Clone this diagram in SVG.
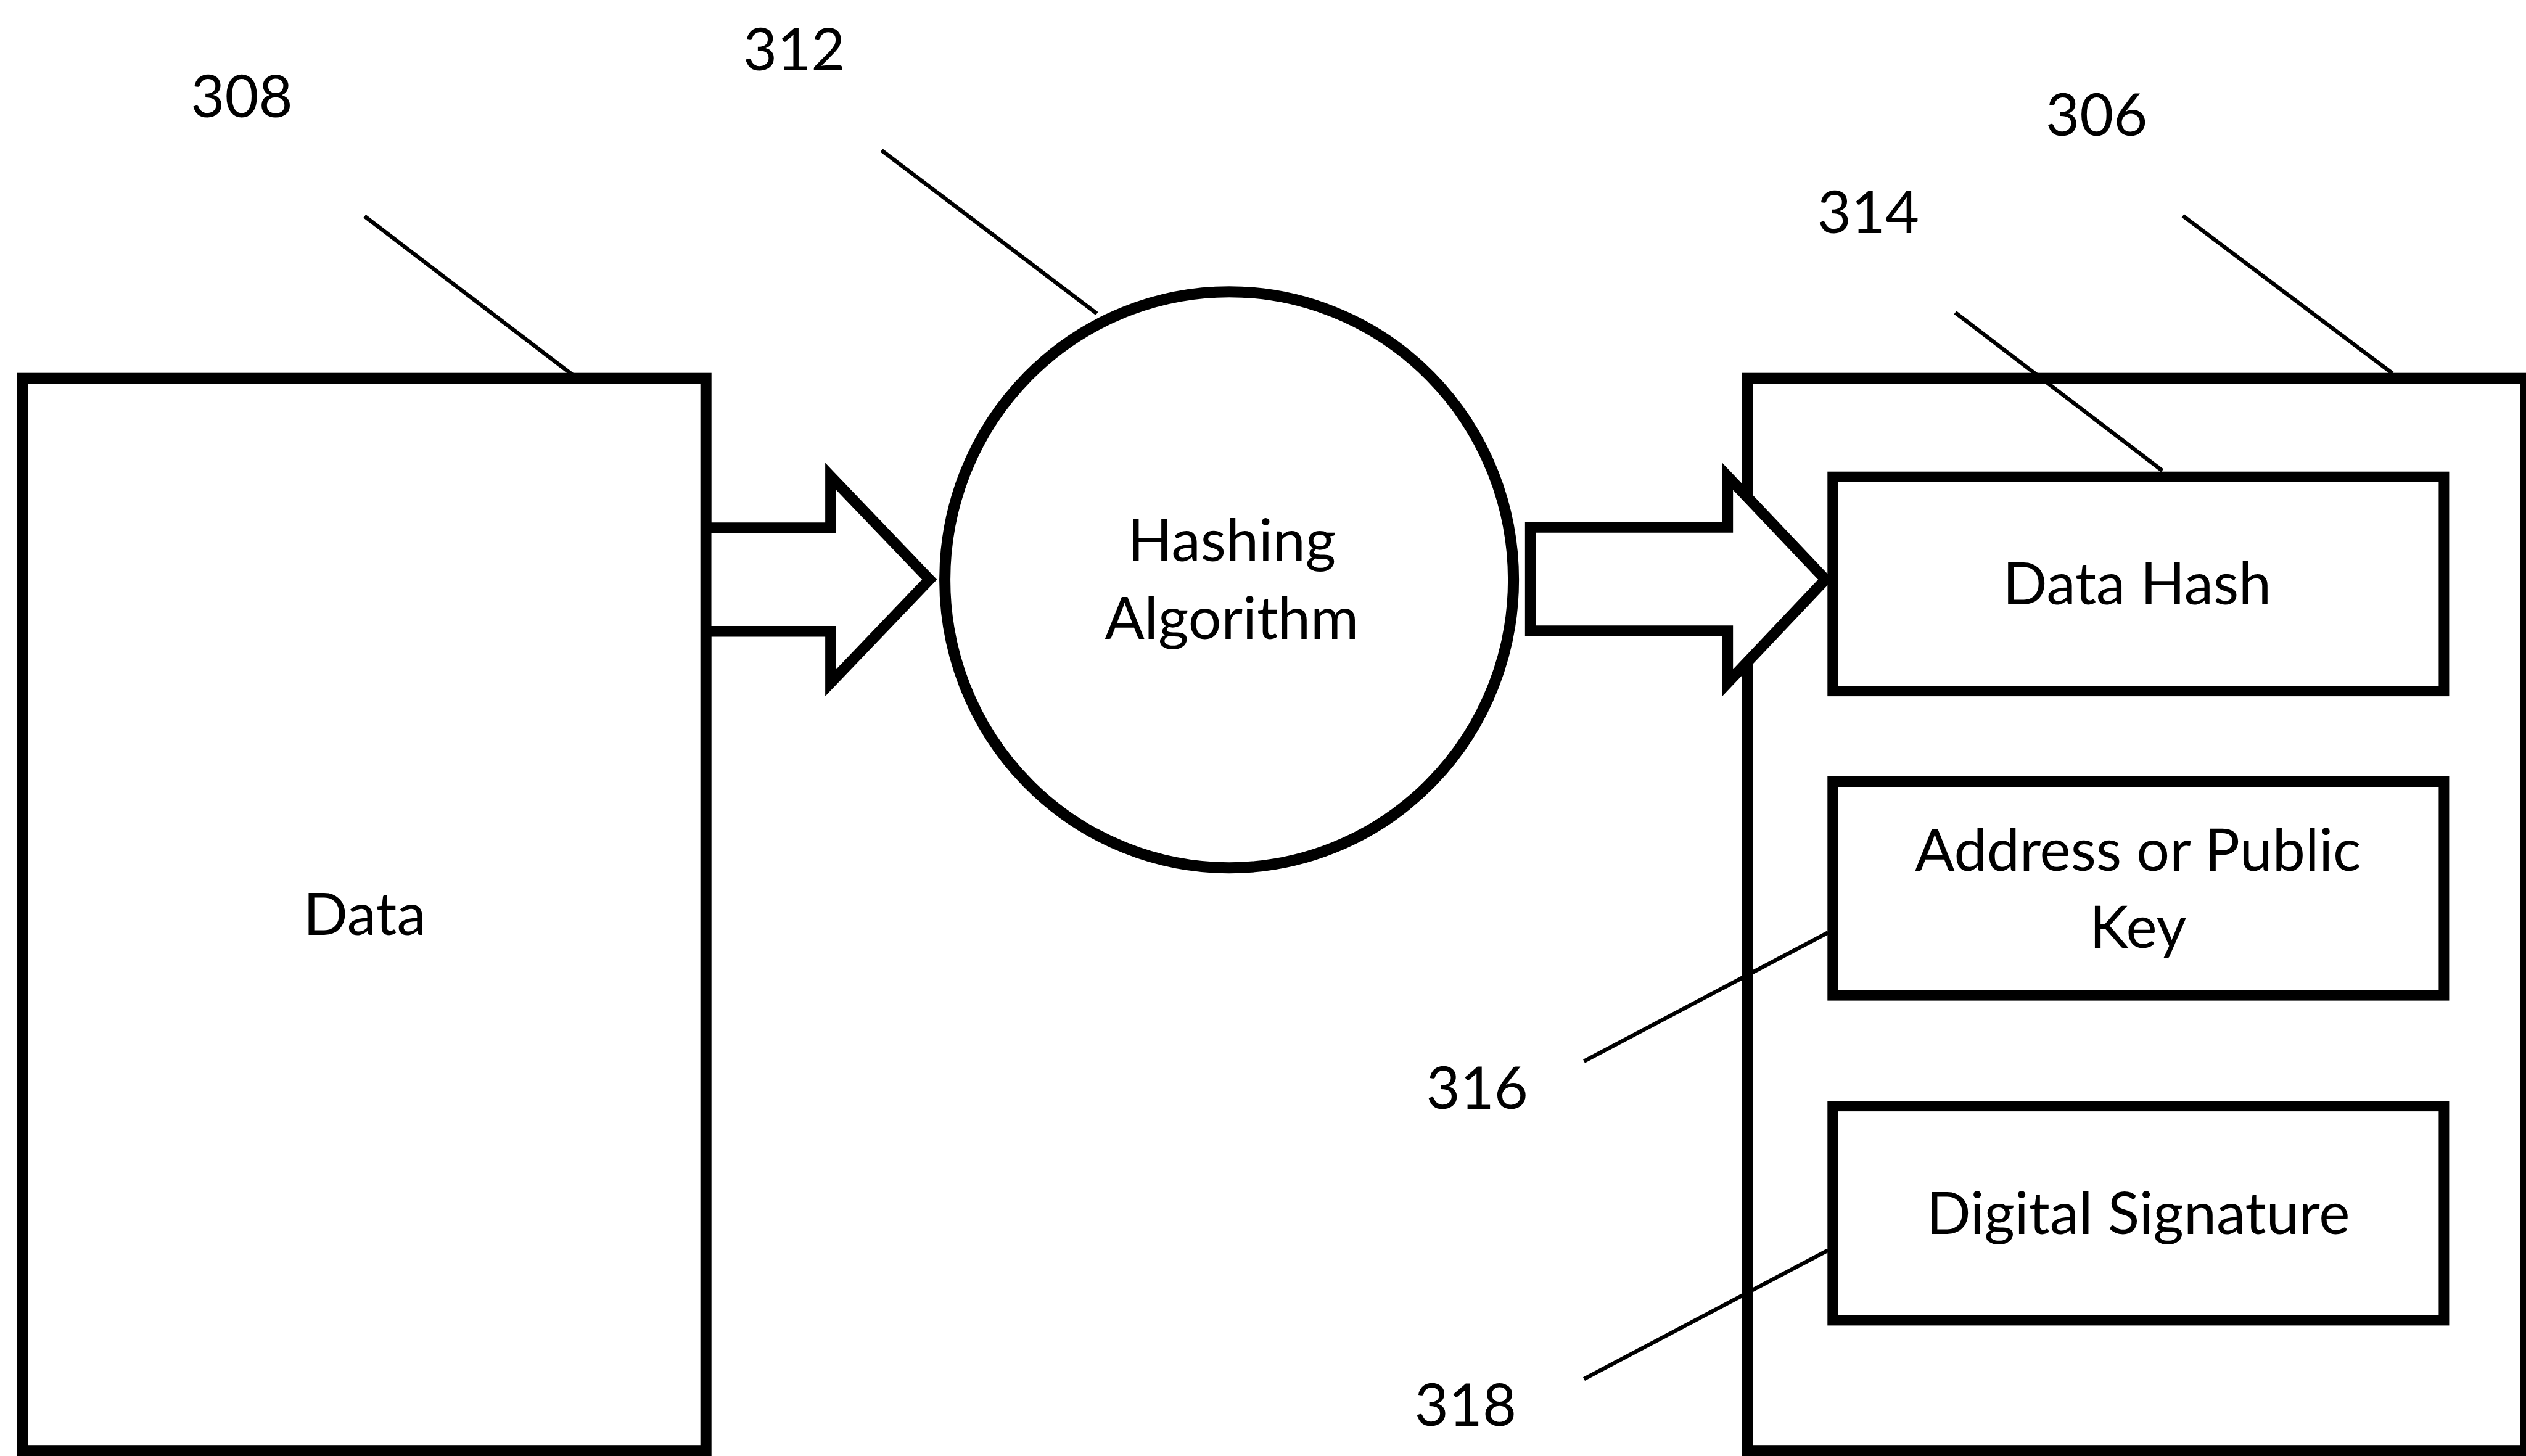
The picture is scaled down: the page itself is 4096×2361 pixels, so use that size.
<svg xmlns="http://www.w3.org/2000/svg" width="4096" height="2361" viewBox="0 0 4096 2361">
<style>
.box{fill:#fff;stroke:#000;stroke-width:18}
.inner{fill:#fff;stroke:#000;stroke-width:17}
.arrow{fill:#fff;stroke:#000;stroke-width:17.5;stroke-linejoin:miter;stroke-miterlimit:6}
.lead{stroke:#000;stroke-width:6.5;fill:none}
text{font-family:Lato,"Open Sans","Liberation Sans",sans-serif;font-size:95px;fill:#000;text-anchor:middle}
</style>
<rect width="4096" height="2361" fill="#fff"/>
<g id="node-308">
<rect class="box" x="36.7" y="613.7" width="1108" height="1738.5"/>
<text x="591.2" y="1516.4">Data</text>
</g>
<g id="node-306">
<rect class="box" x="2833.2" y="613.7" width="1262.5" height="1738.5"/>
</g>
<g id="connectors">
<polygon id="arrow-1" class="arrow" points="1144.8,855.9 1346.9,855.9 1346.9,772.4 1507.2,939.8 1346.9,1107.2 1346.9,1023.7 1144.8,1023.7"/>
<polygon id="arrow-2" class="arrow" points="2481.6,855.0 2801.4,855.0 2801.4,772.4 2960.1,939.8 2801.4,1107.2 2801.4,1022.9 2481.6,1022.9"/>
</g>
<g id="node-312">
<ellipse class="box" cx="1993.1" cy="940.2" rx="461" ry="467"/>
<text x="1997.3" y="910.2">Hashing</text>
<text x="1997.3" y="1036.2">Algorithm</text>
</g>
<g id="node-314">
<rect class="inner" x="2971.8" y="773.2" width="991.1" height="347.4"/>
<text x="3465.3" y="980.3">Data Hash</text>
</g>
<g id="node-316">
<rect class="inner" x="2971.8" y="1267.5" width="991.1" height="346.6"/>
<text x="3466.9" y="1412">Address or Public</text>
<text x="3466.9" y="1537.2">Key</text>
</g>
<g id="node-318">
<rect class="inner" x="2971.8" y="1793.6" width="991.1" height="347.3"/>
<text x="3466.9" y="2000.7">Digital Signature</text>
</g>
<g id="leaders">
<line class="lead" x1="591.2" y1="350.7" x2="928.5" y2="607.9"/>
<line class="lead" x1="1429.5" y1="243.8" x2="1778.6" y2="508.5"/>
<line class="lead" x1="3539.6" y1="349.9" x2="3879.4" y2="605.4"/>
<line class="lead" x1="3170.5" y1="506.8" x2="3506.2" y2="763.2"/>
<line class="lead" x1="2568.5" y1="1720.9" x2="2964.3" y2="1512.2"/>
<line class="lead" x1="2568.5" y1="2236.1" x2="2964.3" y2="2027.4"/>
</g>
<g id="labels">
<text x="392" y="190.4">308</text>
<text x="1287.6" y="114.4">312</text>
<text x="3399.7" y="219.6">306</text>
<text x="3029.4" y="378.3">314</text>
<text x="2395.2" y="1797.8">316</text>
<text x="2376.4" y="2312.1">318</text>
</g>
</svg>
